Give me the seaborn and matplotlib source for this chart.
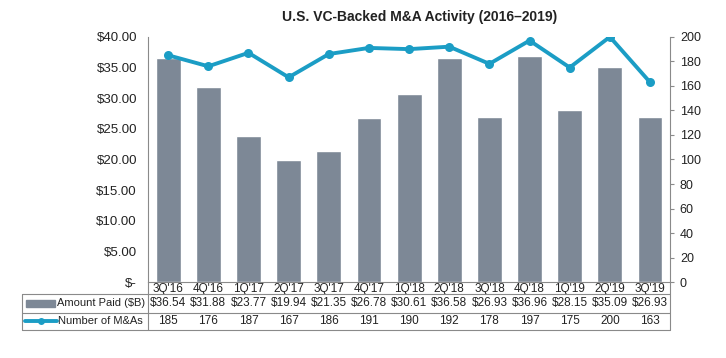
import matplotlib.pyplot as plt
import matplotlib.transforms as mtransforms
from matplotlib.lines import Line2D
from matplotlib.patches import Rectangle
import numpy as np
import seaborn as sns

quarters = ["3Q'16", "4Q'16", "1Q'17", "2Q'17", "3Q'17", "4Q'17", "1Q'18",
            "2Q'18", "3Q'18", "4Q'18", "1Q'19", "2Q'19", "3Q'19"]
amount_paid = [36.54, 31.88, 23.77, 19.94, 21.35, 26.78, 30.61,
               36.58, 26.93, 36.96, 28.15, 35.09, 26.93]
deal_count = [185, 176, 187, 167, 186, 191, 190, 192, 178, 197, 175, 200, 163]

BAR_COLOR = "#7d8896"
LINE_COLOR = "#1b9dc5"
TEXT_COLOR = "#222222"
GRID_COLOR = "#8a8a8a"

sns.set_theme(style="white")
plt.rcParams["font.family"] = ["Liberation Sans", "DejaVu Sans"]

fig = plt.figure(figsize=(7.26, 3.58), dpi=100)
ax = fig.add_axes([0.204, 0.212, 0.719, 0.685])

sns.barplot(x=quarters, y=amount_paid, color=BAR_COLOR, width=0.62,
            saturation=1, ax=ax)
ax.set_ylim(0, 40)
ax.set_xlim(-0.5, len(quarters) - 0.5)
ax.set_yticks(np.arange(0, 41, 5))
ax.set_yticklabels(["$-"] + [f"${v:.2f}" for v in np.arange(5, 41, 5)])
ax.tick_params(axis="y", length=0, pad=8, labelsize=9.5, labelcolor=TEXT_COLOR)
ax.tick_params(axis="x", length=0, pad=1, labelsize=8.5, labelcolor=TEXT_COLOR)
ax.set_xlabel("")
ax.set_ylabel("")

ax2 = ax.twinx()
sns.lineplot(x=np.arange(len(quarters)), y=deal_count, color=LINE_COLOR,
             linewidth=2.8, marker="o", markersize=6.5, markeredgewidth=0, ax=ax2)
ax2.set_ylim(0, 200)
ax2.set_yticks(np.arange(0, 201, 20))
ax2.tick_params(axis="y", length=3, width=0.8, color=GRID_COLOR, pad=4,
                labelsize=9, labelcolor=TEXT_COLOR)
ax2.set_xlim(-0.5, len(quarters) - 0.5)

for a in (ax, ax2):
    a.spines["top"].set_visible(False)
    for side in ("left", "right", "bottom"):
        a.spines[side].set_color(GRID_COLOR)
        a.spines[side].set_linewidth(0.8)
ax.spines["right"].set_visible(False)
ax2.spines["left"].set_visible(False)
ax2.spines["bottom"].set_visible(False)

fig.text(0.578, 0.952, "U.S. VC-Backed M&A Activity (2016\u20132019)",
         ha="center", va="center", fontsize=10, fontweight="bold",
         color=TEXT_COLOR)

# data table beneath the chart
y_top, y_mid, y_bot = 0.179, 0.126, 0.078
x_left, x_div, x_right = 0.030, 0.204, 0.923
y_axis = 0.212
lines = [
    ([x_left, x_right], [y_top, y_top]),
    ([x_left, x_right], [y_mid, y_mid]),
    ([x_left, x_right], [y_bot, y_bot]),
    ([x_left, x_left], [y_bot, y_top]),
    ([x_div, x_div], [y_bot, y_axis]),
    ([x_right, x_right], [y_bot, y_axis]),
]
for xs, ys in lines:
    fig.add_artist(Line2D(xs, ys, color=GRID_COLOR, linewidth=0.8))

row_amount_y = (y_top + y_mid) / 2
row_count_y = (y_mid + y_bot) / 2
trans = mtransforms.blended_transform_factory(ax.transData, fig.transFigure)
for i, (amt, cnt) in enumerate(zip(amount_paid, deal_count)):
    ax.text(i, row_amount_y, f"${amt:.2f}", transform=trans, ha="center",
            va="center", fontsize=8.5, color=TEXT_COLOR, clip_on=False)
    ax.text(i, row_count_y, f"{cnt}", transform=trans, ha="center",
            va="center", fontsize=8.5, color=TEXT_COLOR, clip_on=False)

fig.add_artist(Rectangle((0.036, row_amount_y - 0.009), 0.040, 0.018,
                         color=BAR_COLOR, transform=fig.transFigure))
fig.add_artist(Line2D([0.034, 0.079], [row_count_y, row_count_y],
                      color=LINE_COLOR, linewidth=2.8))
fig.add_artist(Line2D([0.0565], [row_count_y], color=LINE_COLOR,
                      marker="o", markersize=5, markeredgewidth=0))
fig.text(0.079, row_amount_y, "Amount Paid ($B)", ha="left", va="center",
         fontsize=8, color=TEXT_COLOR)
fig.text(0.080, row_count_y, "Number of M&As", ha="left", va="center",
         fontsize=8, color=TEXT_COLOR)

fig.savefig("out.png", dpi=100, facecolor="white")
